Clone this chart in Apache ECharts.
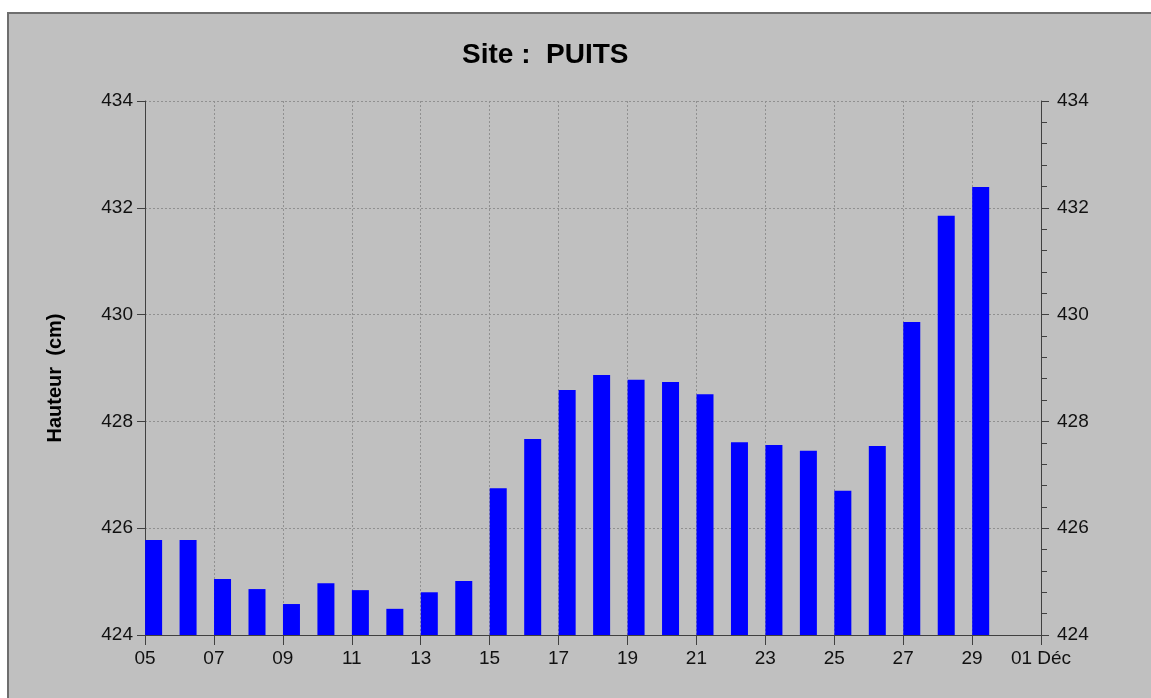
<!DOCTYPE html>
<html>
<head>
<meta charset="utf-8">
<script src="https://cdn.jsdelivr.net/npm/echarts@6/dist/echarts.min.js"></script>
<style>
  html, body { margin: 0; padding: 0; background: #fff; }
  #main { width: 1151px; height: 698px; }
</style>
</head>
<body>
<div id="main"></div>
<script>
var chartDom = document.getElementById('main');
var myChart = echarts.init(chartDom);
var option;

// days of Nov (one bar per day), heights in cm
var days = ['05', '06', '07', '08', '09', '10', '11', '12', '13', '14', '15', '16', '17',
  '18', '19', '20', '21', '22', '23', '24', '25', '26', '27', '28', '29'];
var hauteur = [425.78, 425.78, 425.05, 424.86, 424.58, 424.97, 424.84, 424.49, 424.80, 425.01,
  426.75, 427.67, 428.59, 428.87, 428.78, 428.74, 428.51, 427.61, 427.56, 427.45,
  426.70, 427.54, 429.86, 431.85, 432.39];
// x tick labels, one every 2 days
var xLabels = ['05', '07', '09', '11', '13', '15', '17', '19', '21', '23', '25', '27', '29', '01 Déc'];
var yTicks = [424, 426, 428, 430, 432, 434];

var font = 'Liberation Sans, Arial, sans-serif';

// bar sits in the first half of each day
var barData = days.map(function (d, i) {
  return [i + 0.25, hauteur[i]];
});

option = {
  backgroundColor: '#ffffff',
  animation: false,
  graphic: [
    {
      type: 'rect',
      z: -10,
      shape: { x: 8, y: 13, width: 1200, height: 800 },
      style: { fill: '#c0c0c0', stroke: '#6e6e6e', lineWidth: 2 }
    }
  ],
  title: {
    text: 'Site :  PUITS',
    left: 457,
    top: 36,
    textStyle: { fontFamily: font, fontSize: 28, fontWeight: 'bold', color: '#000' }
  },
  grid: {
    left: 145,
    right: 110,
    top: 101,
    bottom: 63
  },
  xAxis: {
    type: 'value',
    min: 0,
    max: 26,
    interval: 2,
    axisLine: { lineStyle: { color: '#404040', width: 1 } },
    axisTick: { show: true, length: 10, lineStyle: { color: '#404040' } },
    axisLabel: {
      margin: 14,
      fontFamily: font,
      fontSize: 19,
      color: '#111',
      formatter: function (v) {
        return xLabels[v / 2];
      }
    },
    splitLine: { show: true, lineStyle: { color: '#909090', type: [2, 2] } }
  },
  yAxis: [
    {
      type: 'value',
      min: yTicks[0],
      max: yTicks[yTicks.length - 1],
      interval: 2,
      name: 'Hauteur  (cm)',
      nameLocation: 'middle',
      nameGap: 80,
      nameTextStyle: {
        fontFamily: font, fontSize: 20, fontWeight: 'bold', color: '#000',
        padding: [0, 20, 0, 0]
      },
      axisLine: { show: true, lineStyle: { color: '#404040' } },
      axisTick: { show: true, length: 8, lineStyle: { color: '#404040' } },
      axisLabel: { margin: 12, fontFamily: font, fontSize: 19, color: '#111' },
      splitLine: { show: true, lineStyle: { color: '#909090', type: [2, 2] } }
    },
    {
      type: 'value',
      position: 'right',
      min: yTicks[0],
      max: yTicks[yTicks.length - 1],
      interval: 2,
      axisLine: { show: true, lineStyle: { color: '#404040' } },
      axisTick: { show: true, length: 8, lineStyle: { color: '#404040' } },
      minorTick: { show: true, splitNumber: 5, length: 6, lineStyle: { color: '#404040' } },
      axisLabel: { margin: 16, fontFamily: font, fontSize: 19, color: '#111' },
      splitLine: { show: false }
    }
  ],
  series: [
    {
      type: 'bar',
      data: barData,
      barWidth: 17,
      itemStyle: { color: '#0000ff' }
    }
  ]
};

option && myChart.setOption(option);
</script>
</body>
</html>
